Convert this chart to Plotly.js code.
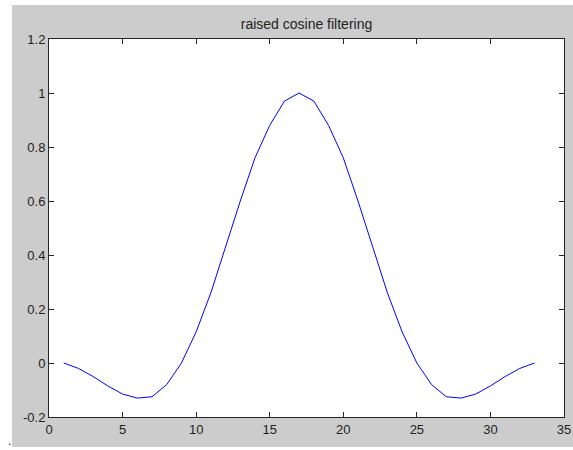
<!DOCTYPE html>
<html>
<head>
<meta charset="utf-8">
<script src="https://cdn.plot.ly/plotly-3.0.1.min.js"></script>
<style>
  html, body { margin: 0; padding: 0; background: #ffffff; width: 573px; height: 450px; overflow: hidden; }
  #fig { position: absolute; left: 12px; top: 5px; width: 561px; height: 442px; }
  #dot { position: absolute; left: 8px; top: 435px; font: 12px/12px "Liberation Sans", Arial, sans-serif; color: #222; }
</style>
</head>
<body>
<div id="fig"></div>
<span id="dot">.</span>
<script>
const xValues = [1,2,3,4,5,6,7,8,9,10,11,12,13,14,15,16,17,18,19,20,21,22,23,24,25,26,27,28,29,30,31,32,33];
const yValues = [0, -0.02, -0.05, -0.085, -0.115, -0.13, -0.125, -0.08, 0.0, 0.115, 0.26, 0.43, 0.6, 0.76, 0.88, 0.97, 1.0,
                 0.97, 0.88, 0.76, 0.6, 0.43, 0.26, 0.115, 0.0, -0.08, -0.125, -0.13, -0.115, -0.085, -0.05, -0.02, 0];
const xTicks = [0, 5, 10, 15, 20, 25, 30, 35];
const yTicks = [-0.2, 0, 0.2, 0.4, 0.6, 0.8, 1, 1.2];
const yTickText = ['-0.2', '0', '0.2', '0.4', '0.6', '0.8', '1', '1.2'];
const titleText = 'raised cosine filtering';

const font = { family: '"Liberation Sans", Arial, sans-serif', size: 13, color: '#222222' };
const titleFont = { family: '"Liberation Sans", Arial, sans-serif', size: 14, color: '#222222' };

const trace = {
  x: xValues, y: yValues, type: 'scatter', mode: 'lines',
  line: { color: '#0000ff', width: 1 }, hoverinfo: 'none'
};

const axisCommon = {
  showgrid: false, zeroline: false, showline: true, linecolor: '#262626', linewidth: 1,
  mirror: 'ticks', ticks: 'inside', ticklen: 5, tickwidth: 1, tickcolor: '#262626',
  tickfont: font, fixedrange: true
};

const layout = {
  width: 561, height: 442,
  margin: { l: 37, r: 9, t: 34, b: 30, pad: 0 },
  paper_bgcolor: '#cccccc', plot_bgcolor: '#ffffff',
  showlegend: false,
  title: { text: titleText, font: titleFont, x: 0.5, xref: 'paper', y: 1, yref: 'paper', yanchor: 'bottom', pad: { b: 10 } },
  xaxis: Object.assign({}, axisCommon, { range: [0, 35], tickvals: xTicks, ticktext: xTicks.map(String) }),
  yaxis: Object.assign({}, axisCommon, { range: [-0.2, 1.2], tickvals: yTicks, ticktext: yTickText })
};

Plotly.newPlot('fig', [trace], layout, { staticPlot: true, displayModeBar: false });
</script>
</body>
</html>
